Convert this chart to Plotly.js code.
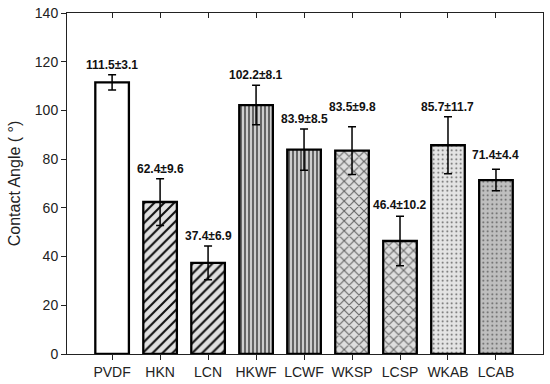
<!DOCTYPE html>
<html>
<head>
<meta charset="utf-8">
<script src="https://cdn.plot.ly/plotly-3.0.1.min.js"></script>
<style>html,body{margin:0;padding:0;background:#fff;}#chart{width:550px;height:384px;}</style>
</head>
<body>
<div id="chart"></div>
<script>
var categories = ["PVDF", "HKN", "LCN", "HKWF", "LCWF", "WKSP", "LCSP", "WKAB", "LCAB"];
var angles = [111.5, 62.4, 37.4, 102.2, 83.9, 83.5, 46.4, 85.7, 71.4];
var errors = [3.1, 9.6, 6.9, 8.1, 8.5, 9.8, 10.2, 11.7, 4.4];
var yTicks = [0, 20, 40, 60, 80, 100, 120, 140];

// styles per bar
var patShapes = ["", "/", "/", "|", "|", "x", "x", ".", "."];
var patSizes = [8, 7, 7, 4, 4, 7, 7, 4.5, 4.5];
var patSolid = [0.3, 0.3, 0.3, 0.4, 0.4, 0.3, 0.3, 0.12, 0.12];
var fgColors = ["#000000", "#111111", "#111111", "#4a4a4a", "#4a4a4a", "#666666", "#666666", "#555555", "#555555"];
var bgColors = ["#ffffff", "#e0e0e0", "#e0e0e0", "#cdcdcd", "#cdcdcd", "#dedede", "#dedede", "#e4e4e4", "#bfbfbf"];
var labelShift = [10, 10, 10, 10, 10, 20, 11, 10, 14];

var font = "Liberation Sans, Arial, sans-serif";

var traces = categories.map(function(c, i) {
  var marker = {color: bgColors[i], line: {color: "#000", width: 2.3}};
  if (patShapes[i]) {
    marker.pattern = {
      shape: patShapes[i], size: patSizes[i], solidity: patSolid[i],
      fgcolor: fgColors[i], bgcolor: bgColors[i], fgopacity: 1, fillmode: "replace"
    };
  }
  return {
    type: "bar", x: [c], y: [angles[i]], width: 0.7, marker: marker,
    error_y: {type: "data", array: [errors[i]], visible: true, color: "#000", thickness: 1.5, width: 4},
    hoverinfo: "skip", showlegend: false
  };
});

traces.push({
  type: "scatter", mode: "markers", x: categories, y: categories.map(function(){return null;}),
  xaxis: "x2", yaxis: "y", hoverinfo: "skip", showlegend: false
});

var annotations = categories.map(function(c, i) {
  return {
    x: c, y: angles[i] + errors[i], xref: "x", yref: "y",
    text: "<b>" + angles[i].toFixed(1) + "±" + errors[i].toFixed(1) + "</b>",
    showarrow: false, yanchor: "middle", yshift: labelShift[i],
    font: {family: font, size: 12, color: "#111"}
  };
});

var layout = {
  width: 550, height: 384,
  margin: {l: 67, r: 7, t: 13, b: 30},
  paper_bgcolor: "#fff", plot_bgcolor: "#fff",
  barmode: "overlay",
  xaxis: {
    type: "category", categoryarray: categories, categoryorder: "array",
    range: [-0.94, 8.98],
    showline: true, linecolor: "#222", linewidth: 1, mirror: true,
    ticks: "outside", ticklen: 5, tickcolor: "#222",
    tickfont: {family: font, size: 14, color: "#222"},
    showgrid: false, zeroline: false, fixedrange: true
  },
  xaxis2: {
    type: "category", categoryarray: categories, categoryorder: "array",
    range: [-0.94, 8.98], overlaying: "x", side: "top",
    showline: false, ticks: "inside", ticklen: 5, tickcolor: "#222",
    showticklabels: false, showgrid: false, zeroline: false
  },
  yaxis: {
    range: [0, 140], tickvals: yTicks, ticktext: yTicks.map(String),
    showline: true, linecolor: "#222", linewidth: 1, mirror: true,
    ticks: "outside", ticklen: 5, tickcolor: "#222",
    tickfont: {family: font, size: 14, color: "#222"},
    showgrid: false, zeroline: false,
    title: {text: "Contact Angle ( °)", font: {family: font, size: 16, color: "#222"}, standoff: 10}
  },
  annotations: annotations
};

Plotly.newPlot("chart", traces, layout, {staticPlot: true, displayModeBar: false});
</script>
</body>
</html>
